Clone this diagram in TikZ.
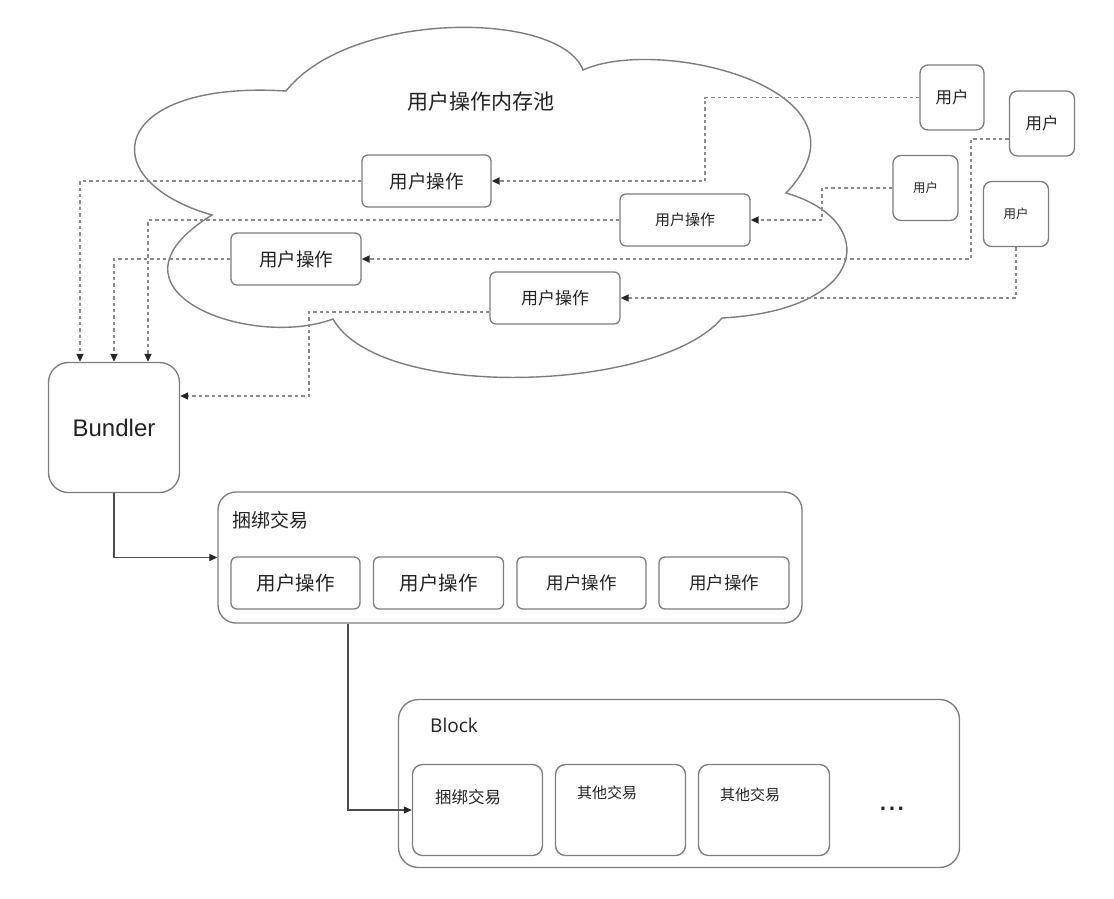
\documentclass[tikz,border=0pt]{standalone}
\usepackage{fontspec}
\newfontfamily\cjk{Noto Sans CJK SC}
\newfontfamily\lat{Liberation Sans}
\newfontfamily\opens{Open Sans}
\usetikzlibrary{arrows.meta,calc}
\definecolor{boxgray}{HTML}{7D7D7D}
\definecolor{dashgray}{HTML}{8A8A8A}
\definecolor{txt}{HTML}{222222}
\newcommand{\fs}[1]{\fontsize{#1}{#1}\selectfont}
\begin{document}
\begin{tikzpicture}[x=1pt,y=-1pt,
  box/.style={draw=boxgray, line width=1.35pt, rounded corners=6pt, inner sep=0pt, text=txt},
  opbox/.style={box, minimum width=129pt, minimum height=52pt, font=\cjk\fs{18.5}},
  userbox/.style={box, rounded corners=8pt, minimum width=64pt, minimum height=65pt},
  bigbox/.style={box, rounded corners=20pt},
  lbl/.style={inner sep=0pt, text=txt},
  dline/.style={draw=dashgray, line width=1.8pt, dash pattern=on 3.4pt off 3pt,
    -{Triangle[length=8pt,width=7pt,color=black!85]}},
  sline/.style={draw=black!70, line width=1.2pt,
    -{Triangle[length=8pt,width=7pt,color=black!85]}}
]
\useasboundingbox (0,0) rectangle (1114,898);
% cloud
\draw[draw=boxgray, line width=1.4pt, fill=white]
  (286,91) .. controls (350,10) and (560,10) .. (583,70)
  .. controls (660,35) and (885,90) .. (786,193)
  .. controls (880,220) and (870,310) .. (722,318)
  .. controls (660,392) and (380,402) .. (333,319)
  .. controls (250,350) and (90,290) .. (212,215)
  .. controls (90,180) and (110,80) .. (286,91) -- cycle;
\node[lbl, font=\cjk\fs{21}] (title) at (481,102) {用户操作内存池};

% operation boxes in pool
\node[opbox] (op1) at (426.5,181) {用户操作};
\node[opbox, minimum width=130pt, font=\cjk\fs{15}] (op2) at (685,220) {用户操作};
\node[opbox, minimum width=130pt] (op3) at (296,259) {用户操作};
\node[opbox, minimum width=130pt, font=\cjk\fs{17}] (op4) at (555,298) {用户操作};

% users
\node[userbox, font=\cjk\fs{16.5}] (user1) at (952,97.5) {用户};
\node[userbox, minimum width=65pt, font=\cjk\fs{16.5}] (user2) at (1042,123.5) {用户};
\node[userbox, minimum width=65pt, font=\cjk\fs{12.5}] (user3) at (925.5,188) {用户};
\node[userbox, minimum width=65pt, font=\cjk\fs{12.5}] (user4) at (1016,214) {用户};

% bundler
\node[bigbox, minimum width=131pt, minimum height=130pt, font=\lat\fs{24}] (bundler) at (114,427.5) {Bundler};

% user -> pool
\draw[dline] (user1.west) -| (705,181) -- (op1.east);
\draw[dline] ([yshift=-15.5pt]user2.west) -| (971,259) -- (op3.east);
\draw[dline] (user3.west) -| (822,220) -- (op2.east);
\draw[dline] (user4.south) |- (op4.east);

% pool -> bundler
\draw[dline] (op1.west) -| ([xshift=-34pt]bundler.north);
\draw[dline] (op2.west) -| ([xshift=34pt]bundler.north);
\draw[dline] (op3.west) -| (bundler.north);
\draw[dline] ([yshift=-14pt]op4.west) -| (309,396) -- ([yshift=31.5pt]bundler.east);

% bundle transaction
\node[bigbox, rounded corners=18pt, minimum width=584pt, minimum height=131pt] (bundle) at (510,557.5) {};
\node[lbl, font=\cjk\fs{19}] (bundlelbl) at (270.5,520.5) {捆绑交易};
\node[opbox, font=\cjk\fs{19.5}] (bop1) at (295.5,583) {用户操作};
\node[opbox, minimum width=130pt, font=\cjk\fs{19.5}] (bop2) at (438.5,583) {用户操作};
\node[opbox, font=\cjk\fs{17.5}] (bop3) at (581.5,583) {用户操作};
\node[opbox, minimum width=130pt, font=\cjk\fs{17.5}] (bop4) at (724,583) {用户操作};
\draw[sline] (bundler.south) |- (bundle.west);

% block
\node[bigbox, minimum width=561pt, minimum height=168pt] (block) at (679,783.5) {};
\node[lbl, anchor=west, font=\opens\fs{19}] (blocklbl) at (430,725) {Block};
\node[box, rounded corners=10pt, minimum width=130pt, minimum height=91pt] (blk1) at (477.5,810) {};
\node[box, rounded corners=10pt, minimum width=130pt, minimum height=91pt] (blk2) at (620.5,810) {};
\node[box, rounded corners=10pt, minimum width=131pt, minimum height=91pt] (blk3) at (764,810) {};
\node[lbl, font=\cjk\fs{16.5}] (blk1t) at (468,797) {捆绑交易};
\node[lbl, font=\cjk\fs{15}] (blk2t) at (607,793) {其他交易};
\node[lbl, font=\cjk\fs{15}] (blk3t) at (750,795) {其他交易};
\node[lbl, font=\lat\fs{32}] (dots) at (892,809) {...};
\draw[sline] ([xshift=-162pt]bundle.south) |- (blk1.west);
\end{tikzpicture}
\end{document}
